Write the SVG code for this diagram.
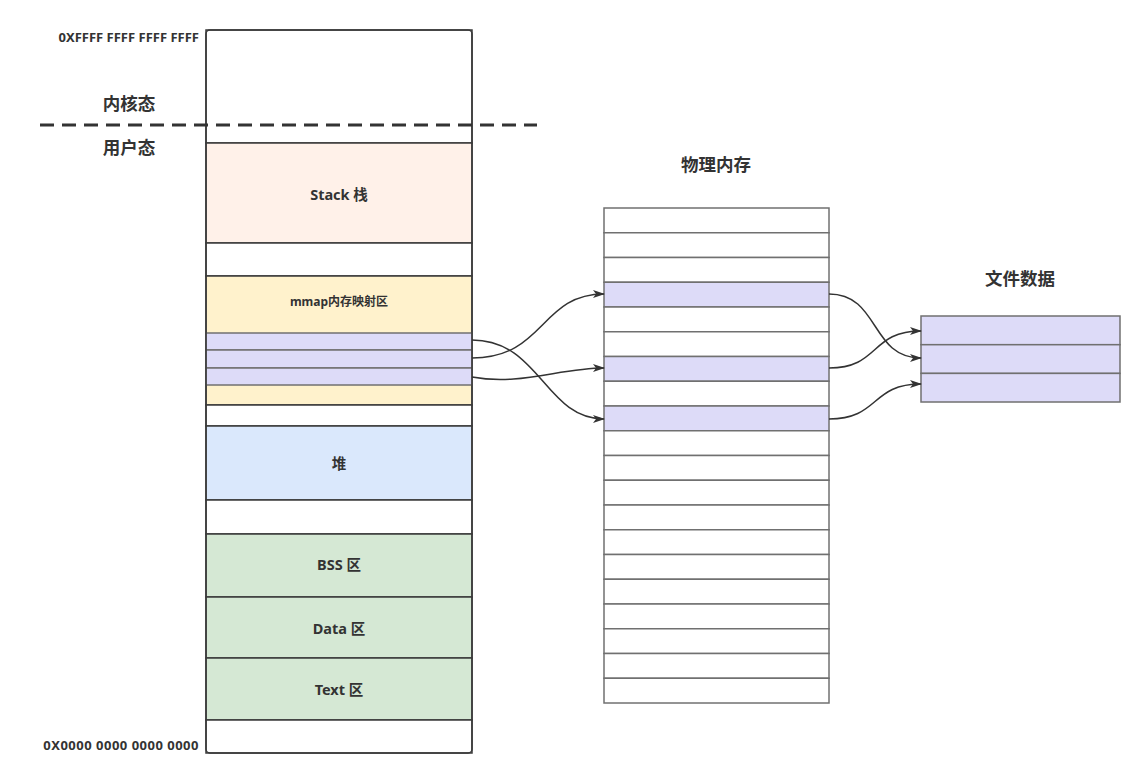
<svg xmlns="http://www.w3.org/2000/svg" width="1137" height="764" viewBox="0 0 1137 764">
<style>
.t{font-family:"Noto Sans","Noto Sans CJK SC",sans-serif;font-weight:bold;fill:#333;}
.sec{stroke:#3a3a3a;stroke-width:1.5;}
.pr{fill:#dddbf8;stroke:#707070;stroke-width:1.5;}
.cell{fill:#ffffff;stroke:#707070;stroke-width:1.5;}
.edge{fill:none;stroke:#333;stroke-width:1.5;marker-end:url(#arr);}
</style>
<defs>
<marker id="arr" viewBox="0 0 12 8" refX="11" refY="4" markerWidth="12" markerHeight="8" markerUnits="userSpaceOnUse" orient="auto">
<path d="M0,0 L12,4 L0,8 L3,4 Z" fill="#333"/>
</marker>
</defs>
<rect width="1137" height="764" fill="#ffffff"/>

<g id="labels">
<text class="t" x="199" y="42" font-size="13" text-anchor="end">0XFFFF FFFF FFFF FFFF</text>
<text class="t" x="129" y="110" font-size="17.5" text-anchor="middle">内核态</text>
<text class="t" x="129" y="154" font-size="17.5" text-anchor="middle">用户态</text>
<text class="t" x="199" y="750" font-size="13" letter-spacing="0.5" text-anchor="end">0X0000 0000 0000 0000</text>
<text class="t" x="716" y="171" font-size="17.5" text-anchor="middle">物理内存</text>
<text class="t" x="1020" y="285" font-size="17.5" text-anchor="middle">文件数据</text>
</g>

<g id="virtual-memory">
<rect class="sec" x="206" y="30" width="266" height="113" fill="#ffffff"/>
<g id="stack"><rect class="sec" x="206" y="143" width="266" height="100" fill="#fff1e9"/>
<text class="t" x="339" y="200" font-size="14.5" text-anchor="middle">Stack 栈</text></g>
<rect class="sec" x="206" y="243" width="266" height="33" fill="#ffffff"/>
<g id="mmap"><rect class="sec" x="206" y="276" width="266" height="129" fill="#fff2cc"/>
<text class="t" x="339" y="306" font-size="12" text-anchor="middle">mmap内存映射区</text></g>
<g id="mmap-row1"><rect class="pr" x="206" y="333" width="266" height="17"/></g>
<g id="mmap-row2"><rect class="pr" x="206" y="350" width="266" height="18"/></g>
<g id="mmap-row3"><rect class="pr" x="206" y="368" width="266" height="17"/></g>
<rect class="sec" x="206" y="405" width="266" height="21" fill="#ffffff"/>
<g id="heap"><rect class="sec" x="206" y="426" width="266" height="74" fill="#dae8fc"/>
<text class="t" x="339" y="469" font-size="14.5" text-anchor="middle">堆</text></g>
<rect class="sec" x="206" y="500" width="266" height="34" fill="#ffffff"/>
<g id="bss"><rect class="sec" x="206" y="534" width="266" height="63" fill="#d5e8d4"/>
<text class="t" x="339" y="570" font-size="14.5" text-anchor="middle">BSS 区</text></g>
<g id="data"><rect class="sec" x="206" y="597" width="266" height="61" fill="#d5e8d4"/>
<text class="t" x="339" y="634" font-size="14.5" text-anchor="middle">Data 区</text></g>
<g id="text"><rect class="sec" x="206" y="658" width="266" height="62" fill="#d5e8d4"/>
<text class="t" x="339" y="695" font-size="14.5" text-anchor="middle">Text 区</text></g>
<rect class="sec" x="206" y="720" width="266" height="33" fill="#ffffff"/>
<rect x="206" y="30" width="266" height="723" rx="4" fill="none" stroke="#3a3a3a" stroke-width="1.5"/>
</g>

<line x1="40" y1="125" x2="537" y2="125" stroke="#333" stroke-width="3" stroke-dasharray="14,8"/>

<g id="physical-memory">
<rect class="cell" x="604" y="208" width="225" height="24.75"/>
<rect class="cell" x="604" y="232.75" width="225" height="24.75"/>
<rect class="cell" x="604" y="257.5" width="225" height="24.75"/>
<rect class="pr" x="604" y="282.25" width="225" height="24.75"/>
<rect class="cell" x="604" y="307" width="225" height="24.75"/>
<rect class="cell" x="604" y="331.75" width="225" height="24.75"/>
<rect class="pr" x="604" y="356.5" width="225" height="24.75"/>
<rect class="cell" x="604" y="381.25" width="225" height="24.75"/>
<rect class="pr" x="604" y="406" width="225" height="24.75"/>
<rect class="cell" x="604" y="430.75" width="225" height="24.75"/>
<rect class="cell" x="604" y="455.5" width="225" height="24.75"/>
<rect class="cell" x="604" y="480.25" width="225" height="24.75"/>
<rect class="cell" x="604" y="505" width="225" height="24.75"/>
<rect class="cell" x="604" y="529.75" width="225" height="24.75"/>
<rect class="cell" x="604" y="554.5" width="225" height="24.75"/>
<rect class="cell" x="604" y="579.25" width="225" height="24.75"/>
<rect class="cell" x="604" y="604" width="225" height="24.75"/>
<rect class="cell" x="604" y="628.75" width="225" height="24.75"/>
<rect class="cell" x="604" y="653.5" width="225" height="24.75"/>
<rect class="cell" x="604" y="678.25" width="225" height="24.75"/>
</g>

<g id="file-data">
<rect class="pr" x="921" y="316" width="199" height="28.7"/>
<rect class="pr" x="921" y="344.7" width="199" height="28.7"/>
<rect class="pr" x="921" y="373.4" width="199" height="28.6"/>
</g>

<g id="connectors">
<path class="edge" d="M472,340 C540,340 545,419 604,419"/>
<path class="edge" d="M472,358 C545,358 540,294 604,294"/>
<path class="edge" d="M472,377 C520,386 560,368 604,368"/>
<path class="edge" d="M829,294 C880,294 870,358 921,358"/>
<path class="edge" d="M829,368 C880,368 870,331 921,331"/>
<path class="edge" d="M829,419 C880,419 870,384 921,384"/>
</g>
</svg>
